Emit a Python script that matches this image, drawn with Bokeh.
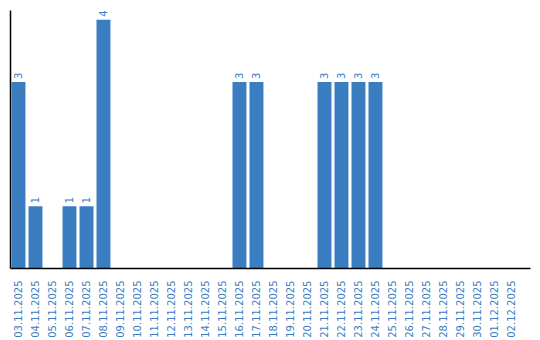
import math
from bokeh.plotting import figure
from bokeh.models import Range1d, ColumnDataSource, FixedTicker
from bokeh.core.properties import value
from bokeh.embed import file_html
from bokeh.resources import INLINE

dates = ["03.11.2025", "04.11.2025", "05.11.2025", "06.11.2025", "07.11.2025", "08.11.2025",
         "09.11.2025", "10.11.2025", "11.11.2025", "12.11.2025", "13.11.2025", "14.11.2025",
         "15.11.2025", "16.11.2025", "17.11.2025", "18.11.2025", "19.11.2025", "20.11.2025",
         "21.11.2025", "22.11.2025", "23.11.2025", "24.11.2025", "25.11.2025", "26.11.2025",
         "27.11.2025", "28.11.2025", "29.11.2025", "30.11.2025", "01.12.2025", "02.12.2025"]
counts = [3, 1, 0, 1, 1, 4, 0, 0, 0, 0, 0, 0, 0, 3, 3, 0, 0, 0, 3, 3, 3, 3, 0, 0, 0, 0, 0, 0, 0, 0]

BLUE = "#3b7dc1"
xs = list(range(len(dates)))
src = ColumnDataSource(dict(x=xs, y=counts))
nz = [i for i, c in enumerate(counts) if c > 0]
lab = ColumnDataSource(dict(x=[xs[i] for i in nz], y=[counts[i] for i in nz],
                            t=[str(counts[i]) for i in nz]))

p = figure(width=540, height=340, output_backend="svg", toolbar_location=None,
           x_range=Range1d(-0.47, 30.12), y_range=Range1d(0, 4.15),
           min_border_left=10, min_border_right=10, min_border_top=10, min_border_bottom=70)
p.outline_line_color = None
p.xgrid.visible = False
p.ygrid.visible = False

p.vbar(x="x", top="y", width=0.82, bottom=0, source=src, color=BLUE, line_color=None)
p.text(x="x", y="y", text="t", source=lab, angle=math.pi / 2, text_align="left",
       text_baseline="middle", y_offset=-3, text_color=BLUE, text_font_size="10px",
       text_font=value("DejaVu Sans"))

p.xaxis.ticker = FixedTicker(ticks=xs)
p.xaxis.major_label_overrides = {i: d for i, d in enumerate(dates)}
p.xaxis.major_label_orientation = math.pi / 2
p.xaxis.major_label_text_color = BLUE
p.xaxis.major_label_text_font = "DejaVu Sans"
p.xaxis.major_label_text_font_size = "10px"
p.xaxis.major_tick_line_color = None
p.xaxis.minor_tick_line_color = None
p.xaxis.axis_line_color = "black"
p.xaxis.axis_line_width = 1.5
p.xaxis.major_label_standoff = 6

p.yaxis.ticker = FixedTicker(ticks=[])
p.yaxis.major_tick_line_color = None
p.yaxis.minor_tick_line_color = None
p.yaxis.axis_line_color = "black"
p.yaxis.axis_line_width = 1.5

open("out.html", "w").write(file_html(p, INLINE))
